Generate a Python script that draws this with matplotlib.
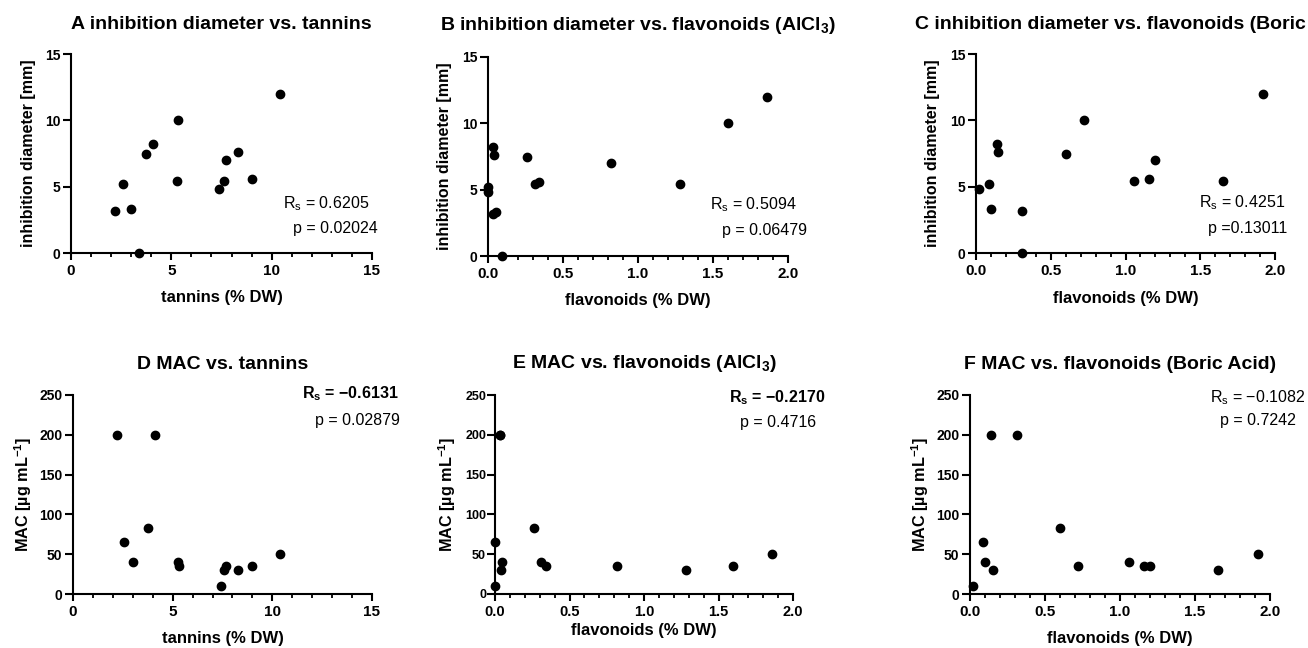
import matplotlib.pyplot as plt
import numpy as np
from matplotlib.ticker import MultipleLocator

plt.rcParams['font.family'] = ['Liberation Sans', 'DejaVu Sans']
plt.rcParams['mathtext.default'] = 'regular'

# one entry per sample
tannins = [2.2, 2.58, 3.0, 3.4, 3.75, 4.1, 5.32, 5.28, 7.4, 7.6, 7.7, 8.3, 9.0, 10.4]
flav_alcl3 = [0.035, 0.0, 0.05, 0.09, 0.26, 0.035, 1.6, 0.31, 0.0, 1.28, 0.82, 0.04, 0.34, 1.86]
flav_boric = [0.31, 0.085, 0.10, 0.31, 0.60, 0.14, 0.72, 1.06, 0.02, 1.65, 1.20, 0.15, 1.16, 1.92]
diameter = [3.2, 5.2, 3.3, 0.0, 7.5, 8.2, 10.0, 5.4, 4.8, 5.4, 7.0, 7.6, 5.6, 12.0]
mac = [200, 65, 40, np.nan, 83, 200, 35, 40, 10, 30, 35, 30, 35, 50]

titles = ["A inhibition diameter vs. tannins",
          "B inhibition diameter vs. flavonoids (AlCl$_3$)",
          "C inhibition diameter vs. flavonoids (Boric Acid)",
          "D MAC vs. tannins",
          "E MAC vs. flavonoids (AlCl$_3$)",
          "F MAC vs. flavonoids (Boric Acid)"]
rs_text = ["0.6205", "0.5094", "0.4251", "\u22120.6131", "\u22120.2170", "\u22120.1082"]
p_text = ["p = 0.02024", "p = 0.06479", "p =0.13011", "p = 0.02879", "p = 0.4716", "p = 0.7242"]

W, H = 1308, 648
fig = plt.figure(figsize=(W / 100, H / 100), dpi=100)


def px(x, y):
    return x / W, 1 - y / H


# axes frames in pixels: left, right, top, bottom
frames = [(71, 372, 54, 253), (488, 788, 57, 256), (976, 1275, 54, 253),
          (73, 372, 395, 594), (495, 793, 395, 594), (970, 1270, 395, 594)]
xs = [tannins, flav_alcl3, flav_boric, tannins, flav_alcl3, flav_boric]
ys = [diameter] * 3 + [mac] * 3
xlabels = ["tannins (% DW)", "flavonoids (% DW)", "flavonoids (% DW)"] * 2
title_base = [29, 30, 29, 369, 368, 369]
title_x = [0.5, 0.5, 0.54, 0.5, 0.5, 0.5]
xlabel_y = [297, 301, 298, 639, 630, 639]
ylabel_x = [28, 445, 933, 23, 447, 920]
# annotation anchors (x, y of Rs line, x, y of p line, ha)
notes = [(369, 204, 378, 228, 'right'), (797, 205, 807, 231, 'right'),
         (1285, 203, 1287, 229, 'right'), (399, 394, 400, 420, 'right'),
         (777, 398, 778, 422, 'center'), (1258, 398, 1258, 421, 'center')]

for i in range(6):
    l, r, t, b = frames[i]
    w, h = r - l, b - t
    ax = fig.add_axes([l / W, 1 - b / H, w / W, h / H])
    ax.scatter(xs[i], ys[i], s=36, color='black', zorder=3, clip_on=False)
    if i % 3 == 0:
        ax.set_xlim(0, 15)
        ax.xaxis.set_major_locator(MultipleLocator(5))
        ax.xaxis.set_minor_locator(MultipleLocator(1))
    else:
        ax.set_xlim(0, 2.0)
        ax.xaxis.set_major_locator(MultipleLocator(0.5))
        ax.xaxis.set_minor_locator(MultipleLocator(0.1))
        ax.xaxis.set_major_formatter(lambda v, pos: f"{v:.1f}")
    if i < 3:
        ax.set_ylim(0, 15)
        ax.yaxis.set_major_locator(MultipleLocator(5))
        ax.set_ylabel("inhibition diameter [mm]", fontsize=11.5, fontweight='bold')
    else:
        ax.set_ylim(0, 250)
        ax.yaxis.set_major_locator(MultipleLocator(50))
        ax.set_ylabel("MAC [\u00b5g mL$^{-1}$]", fontsize=11.7, fontweight='bold')
    ax.set_xlabel(xlabels[i], fontsize=12, fontweight='bold')
    ax.xaxis.label.set_va('center')
    ax.yaxis.label.set_va('center')
    ax.xaxis.set_label_coords(0.5, -(xlabel_y[i] - b) / h)
    ax.yaxis.set_label_coords(-(l - ylabel_x[i]) / w, 0.5)
    ax.set_title(titles[i], fontsize=14, fontweight='bold',
                 x=title_x[i], y=1 + (t - title_base[i]) / h, pad=0)

    for s in ['top', 'right']:
        ax.spines[s].set_visible(False)
    for s in ['left', 'bottom']:
        ax.spines[s].set_linewidth(1.5)
    small = (i == 4)
    ax.tick_params(axis='x', which='major', length=5.2, width=1.5,
                   labelsize=10.5 if small else 11, pad=3)
    ax.tick_params(axis='y', which='major', length=5.6, width=1.5,
                   labelsize=9 if small else 10, pad=0.8 if small else 2)
    ax.tick_params(axis='x', which='minor', length=3, width=1.3)
    ax.tick_params(axis='y', which='minor', left=False)
    for lab in ax.get_xticklabels() + ax.get_yticklabels():
        lab.set_fontweight('bold')

    rx, ry, qx, qy, ha = notes[i]
    wt = 'bold' if i in (3, 4) else 'normal'
    fig.text(*px(rx, ry), "R$_s$ = " + rs_text[i], fontsize=11.5, fontweight=wt,
             ha=ha, va='center')
    fig.text(*px(qx, qy), p_text[i], fontsize=11.5, ha=ha, va='center')

fig.savefig("out.png", dpi=100)
